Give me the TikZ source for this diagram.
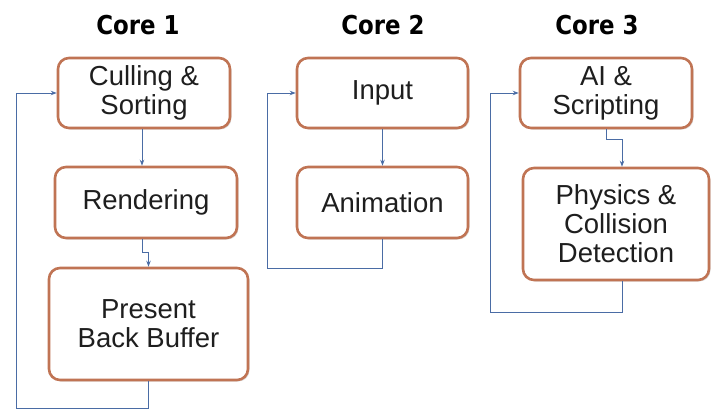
\documentclass[tikz,border=0pt]{standalone}
\usepackage{fontspec}
\setmainfont{Liberation Sans}
\newfontfamily\titlefont[FakeStretch=0.88]{DejaVu Sans}
\usetikzlibrary{arrows.meta,calc,shadows}
\definecolor{boxborder}{RGB}{192,116,84}
\definecolor{arrblue}{RGB}{74,108,165}
\definecolor{txt}{RGB}{30,30,30}
\tikzset{
  stage/.style={draw=boxborder, line width=2.6pt, rounded corners=11pt, fill=white,
    align=center, text=txt, font=\fontsize{27.5}{29}\selectfont, inner sep=0pt,
    drop shadow={shadow xshift=1.5pt, shadow yshift=-1.5pt, opacity=0.25, fill=gray}},
  title/.style={font=\titlefont\bfseries\fontsize{26}{28}\selectfont, text=black},
  arr/.style={draw=arrblue, line width=0.9pt, -{Stealth[length=6pt,width=4.5pt]}}
}
\begin{document}
\begin{tikzpicture}[x=1pt,y=-1pt]
\useasboundingbox (0,0) rectangle (712,412);
% titles
\node[title] (t1) at (138,25) {Core 1};
\node[title] (t2) at (383,25) {Core 2};
\node[title] (t3) at (597,25) {Core 3};
% core 1
\node[stage, minimum width=172pt, minimum height=70pt] (cs) at (144,93) {Culling \&\\Sorting};
\node[stage, minimum width=182pt, minimum height=71pt] (ren) at (146,202.5) {Rendering};
\node[stage, minimum width=199pt, minimum height=112pt] (pbb) at (148.5,324) {Present\\Back Buffer};
% core 2
\node[stage, minimum width=171pt, minimum height=70pt] (inp) at (382.5,93) {Input};
\node[stage, minimum width=171pt, minimum height=71pt] (ani) at (382.5,202.5) {Animation};
% core 3
\node[stage, minimum width=172pt, minimum height=70pt] (ai) at (606,93) {AI \&\\Scripting};
\node[stage, minimum width=186pt, minimum height=112pt] (phy) at (616,224) {Physics \&\\Collision\\Detection};
% helper coordinates
\coordinate (a1) at ($(cs.south)+(-2,0)$);
\coordinate (a2) at ($(ren.south)+(-4,0)$);
\coordinate (a3) at ($(phy.north)+(6,0)$);
\coordinate (a4) at ($(phy.south)+(6,0)$);
\coordinate (l1) at (16,408);
\coordinate (l2) at (267,268);
\coordinate (l3) at (490,312);
% connectors core 1
\draw[arr] (a1) -- (a1 |- ren.north);
\draw[arr] (a2) -- ++(0,13) -| (pbb.north);
\draw[arr] (pbb.south) |- (l1) |- (cs.west);
% connectors core 2
\draw[arr] (inp.south) -- (ani.north);
\draw[arr] (ani.south) |- (l2) |- (inp.west);
% connectors core 3
\draw[arr] (ai.south) -- ++(0,10) -| (a3);
\draw[arr] (a4) |- (l3) |- (ai.west);
\end{tikzpicture}
\end{document}
